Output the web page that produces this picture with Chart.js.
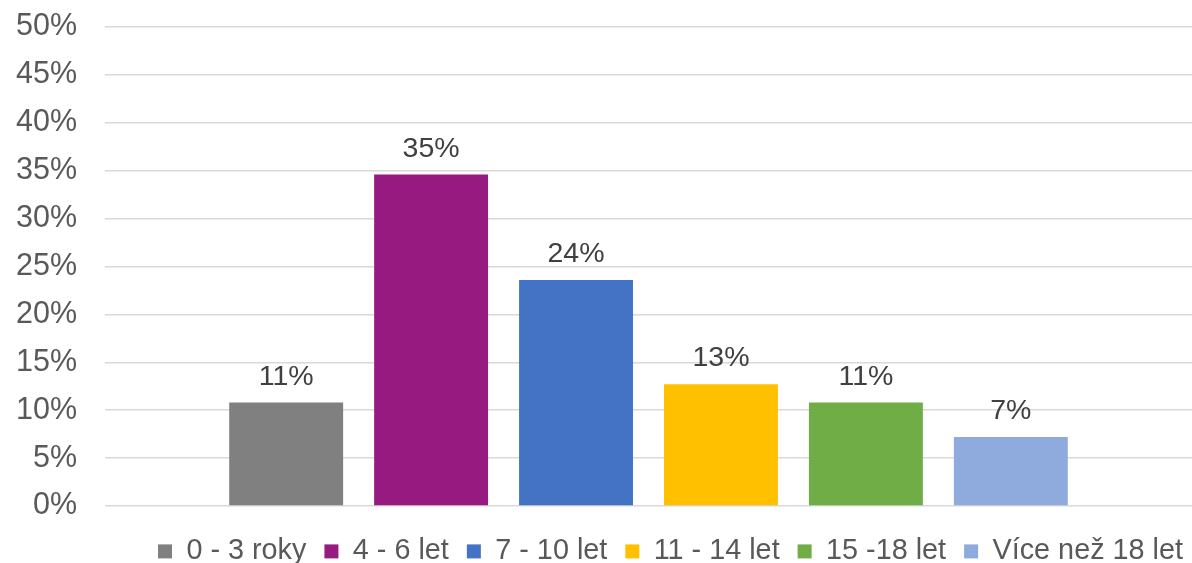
<!DOCTYPE html>
<html>
<head>
<meta charset="utf-8">
<script src="https://cdn.jsdelivr.net/npm/chart.js@4/dist/chart.umd.min.js"></script>
<style>
  html, body { margin: 0; padding: 0; background: #fff; }
  #wrap { width: 1192px; height: 563px; position: relative; }
</style>
</head>
<body>
<div id="wrap"><canvas id="chart"></canvas></div>
<script>
// age groups shown as separate series (one bar each)
const groups = ['0 - 3 roky', '4 - 6 let', '7 - 10 let', '11 - 14 let', '15 -18 let', 'Více než 18 let'];
const shares = [10.8, 34.6, 23.6, 12.7, 10.8, 7.2];
const colors = ['#808080', '#961A7F', '#4472C4', '#FFC000', '#70AD47', '#8FAADC'];
const yTicks = [0, 5, 10, 15, 20, 25, 30, 35, 40, 45, 50];

const FONT = '"Liberation Sans", Arial, sans-serif';

// draws the % value above each bar
const valueLabels = {
  id: 'valueLabels',
  afterDatasetsDraw(chart) {
    const ctx = chart.ctx;
    ctx.save();
    ctx.font = '28.5px ' + FONT;
    ctx.fillStyle = '#404040';
    ctx.textAlign = 'center';
    ctx.textBaseline = 'alphabetic';
    chart.data.datasets.forEach((ds, i) => {
      const bar = chart.getDatasetMeta(i).data[0];
      if (!bar) return;
      ctx.fillText(Math.round(ds.data[0]) + '%', bar.x, bar.y - 18);
    });
    ctx.restore();
  }
};

// legend sits lower and further right than chart.js puts it
const legendPlace = {
  id: 'legendPlace',
  afterInit(chart) {
    const legend = chart.legend;
    const fit = legend.fit;
    legend.fit = function () {
      fit.call(this);
      this.height = 44;
    };
  },
  afterLayout(chart) {
    chart.legend.left += 9;
    chart.legend.right += 9;
  }
};

const datasets = groups.map((g, i) => ({
  label: g,
  data: [shares[i]],
  backgroundColor: colors[i],
  borderWidth: 0,
  categoryPercentage: 0.8,
  barPercentage: 0.786
}));

new Chart(document.getElementById('chart'), {
  type: 'bar',
  data: { labels: [''], datasets },
  options: {
    responsive: true,
    maintainAspectRatio: false,
    animation: false,
    layout: { padding: { left: 16, right: 0, top: 0, bottom: 0 } },
    plugins: {
      tooltip: { enabled: false },
      legend: {
        position: 'bottom',
        align: 'end',
        labels: {
          boxWidth: 14,
          boxHeight: 14,
          padding: 18,
          color: '#595959',
          font: { family: FONT, size: 28.8 }
        }
      }
    },
    scales: {
      x: {
        grid: { display: false },
        border: { display: false },
        ticks: { display: false },
        afterFit: axis => { axis.height = 13; }
      },
      y: {
        min: 0,
        max: 50,
        afterBuildTicks: axis => { axis.ticks = yTicks.map(v => ({ value: v })); },
        afterFit: axis => {
          axis.width = 89;
          axis.paddingTop = 27;
          axis.paddingBottom = 18;
        },
        grid: { color: '#d9d9d9', lineWidth: 1.5, drawTicks: false },
        border: { display: false },
        ticks: {
          padding: 28,
          color: '#595959',
          font: { family: FONT, size: 30.5 },
          callback: v => v + '%'
        }
      }
    }
  },
  plugins: [valueLabels, legendPlace]
});
</script>
</body>
</html>
